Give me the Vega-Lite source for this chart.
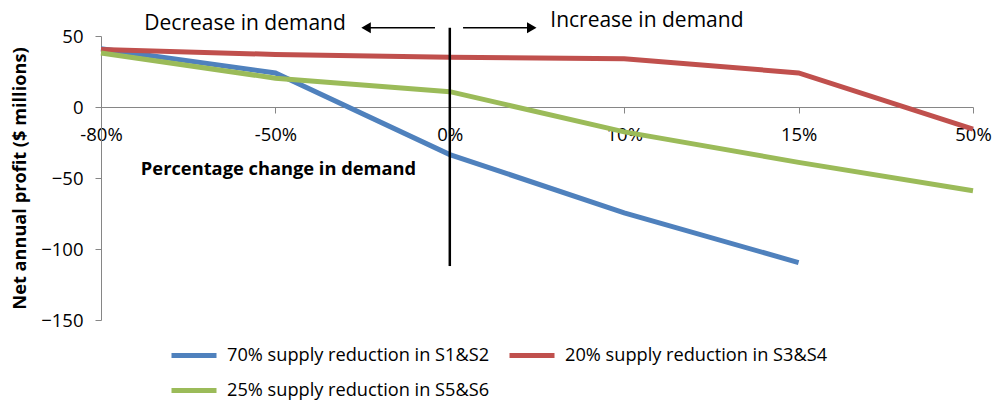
{
  "$schema": "https://vega.github.io/schema/vega-lite/v6.json",
  "width": 872,
  "height": 284,
  "autosize": "none",
  "padding": {"left": 101, "top": 36, "right": 20, "bottom": 83},
  "background": "white",
  "config": {"font": "Open Sans", "view": {"stroke": null}},
  "datasets": {
    "profit": [
      {"change": "-80%", "series": "70% supply reduction in S1&S2", "profit": 41},
      {"change": "-50%", "series": "70% supply reduction in S1&S2", "profit": 24},
      {"change": "0%", "series": "70% supply reduction in S1&S2", "profit": -33.5},
      {"change": "10%", "series": "70% supply reduction in S1&S2", "profit": -74.5},
      {"change": "15%", "series": "70% supply reduction in S1&S2", "profit": -109.6},
      {"change": "-80%", "series": "20% supply reduction in S3&S4", "profit": 40.5},
      {"change": "-50%", "series": "20% supply reduction in S3&S4", "profit": 37},
      {"change": "0%", "series": "20% supply reduction in S3&S4", "profit": 35},
      {"change": "10%", "series": "20% supply reduction in S3&S4", "profit": 34},
      {"change": "15%", "series": "20% supply reduction in S3&S4", "profit": 24},
      {"change": "50%", "series": "20% supply reduction in S3&S4", "profit": -15.5},
      {"change": "-80%", "series": "25% supply reduction in S5&S6", "profit": 38},
      {"change": "-50%", "series": "25% supply reduction in S5&S6", "profit": 20.3},
      {"change": "0%", "series": "25% supply reduction in S5&S6", "profit": 10.8},
      {"change": "10%", "series": "25% supply reduction in S5&S6", "profit": -17.5},
      {"change": "15%", "series": "25% supply reduction in S5&S6", "profit": -39},
      {"change": "50%", "series": "25% supply reduction in S5&S6", "profit": -59}
    ],
    "arrows": [
      {"x1": 1.915, "x2": 1.52, "y": 55.8, "dir": "left"},
      {"x1": 2.076, "x2": 2.47, "y": 55.8, "dir": "right"}
    ],
    "labels": [
      {"x": 0.826, "y": 58.5, "text": "Decrease in demand"},
      {"x": 3.13, "y": 60.5, "text": "Increase in demand"}
    ],
    "divider": [{"x": 2, "y1": 55.8, "y2": -112}]
  },
  "layer": [
    {
      "data": {"name": "profit"},
      "mark": {"type": "line", "strokeWidth": 5},
      "encoding": {
        "x": {
          "field": "change",
          "type": "ordinal",
          "sort": ["-80%", "-50%", "0%", "10%", "15%", "50%"],
          "scale": {"type": "point", "padding": 0},
          "axis": {
            "orient": "bottom",
            "offset": -213,
            "labelAngle": 0,
            "domainColor": "#868686",
            "tickColor": "#868686",
            "tickSize": 6,
            "labelFontSize": 18.5,
            "labelColor": "#000000",
            "labelPadding": 12,
            "title": "Percentage change in demand",
            "titleFontSize": 18.3,
            "titleFontWeight": "bold",
            "titleColor": "#000000",
            "titleX": 177,
            "titleY": 62,
            "titleAlign": "center",
            "titleBaseline": "middle"
          }
        },
        "y": {
          "field": "profit",
          "type": "quantitative",
          "scale": {"domain": [-150, 50], "nice": false},
          "axis": {
            "values": [-150, -100, -50, 0, 50],
            "grid": false,
            "domainColor": "#868686",
            "tickColor": "#868686",
            "tickSize": 6,
            "labelFontSize": 18.5,
            "labelColor": "#000000",
            "labelPadding": 12,
            "title": "Net annual profit ($ millions)",
            "titleFontSize": 18.2,
            "titleFontWeight": "bold",
            "titleColor": "#000000",
            "titlePadding": 11
          }
        },
        "color": {
          "field": "series",
          "type": "nominal",
          "scale": {
            "domain": ["70% supply reduction in S1&S2", "25% supply reduction in S5&S6", "20% supply reduction in S3&S4"],
            "range": ["#4F81BD", "#9BBB59", "#C0504D"]
          },
          "legend": {
            "title": null,
            "orient": "none",
            "legendX": 68,
            "legendY": 294.5,
            "columns": 2,
            "columnPadding": 9,
            "rowPadding": -5,
            "padding": 0,
            "symbolType": "stroke",
            "symbolSize": 2025,
            "symbolStrokeWidth": 5,
            "labelFontSize": 18.2,
            "labelColor": "#000000",
            "labelOffset": 8,
            "labelLimit": 400
          }
        }
      }
    },
    {
      "data": {"name": "divider"},
      "mark": {"type": "rule", "color": "#000000", "strokeWidth": 2.5},
      "encoding": {
        "x": {"field": "x", "type": "quantitative", "scale": {"domain": [0, 5], "nice": false, "zero": false}, "axis": null},
        "y": {"field": "y1", "type": "quantitative"},
        "y2": {"field": "y2"}
      }
    },
    {
      "data": {"name": "arrows"},
      "mark": {"type": "rule", "color": "#000000", "strokeWidth": 1.5},
      "encoding": {
        "x": {"field": "x1", "type": "quantitative", "scale": {"domain": [0, 5], "nice": false, "zero": false}, "axis": null},
        "x2": {"field": "x2"},
        "y": {"field": "y", "type": "quantitative"}
      }
    },
    {
      "data": {"name": "arrows"},
      "mark": {"type": "point", "filled": true, "color": "#000000", "opacity": 1, "size": 120},
      "encoding": {
        "x": {"field": "x2", "type": "quantitative", "scale": {"domain": [0, 5], "nice": false, "zero": false}, "axis": null},
        "y": {"field": "y", "type": "quantitative"},
        "shape": {"field": "dir", "type": "nominal", "scale": {"domain": ["left", "right"], "range": ["triangle-left", "triangle-right"]}, "legend": null}
      }
    },
    {
      "data": {"name": "labels"},
      "mark": {"type": "text", "fontSize": 21, "color": "#000000", "align": "center", "baseline": "middle"},
      "encoding": {
        "x": {"field": "x", "type": "quantitative", "scale": {"domain": [0, 5], "nice": false, "zero": false}, "axis": null},
        "y": {"field": "y", "type": "quantitative"},
        "text": {"field": "text"}
      }
    }
  ],
  "resolve": {"scale": {"x": "independent"}}
}
